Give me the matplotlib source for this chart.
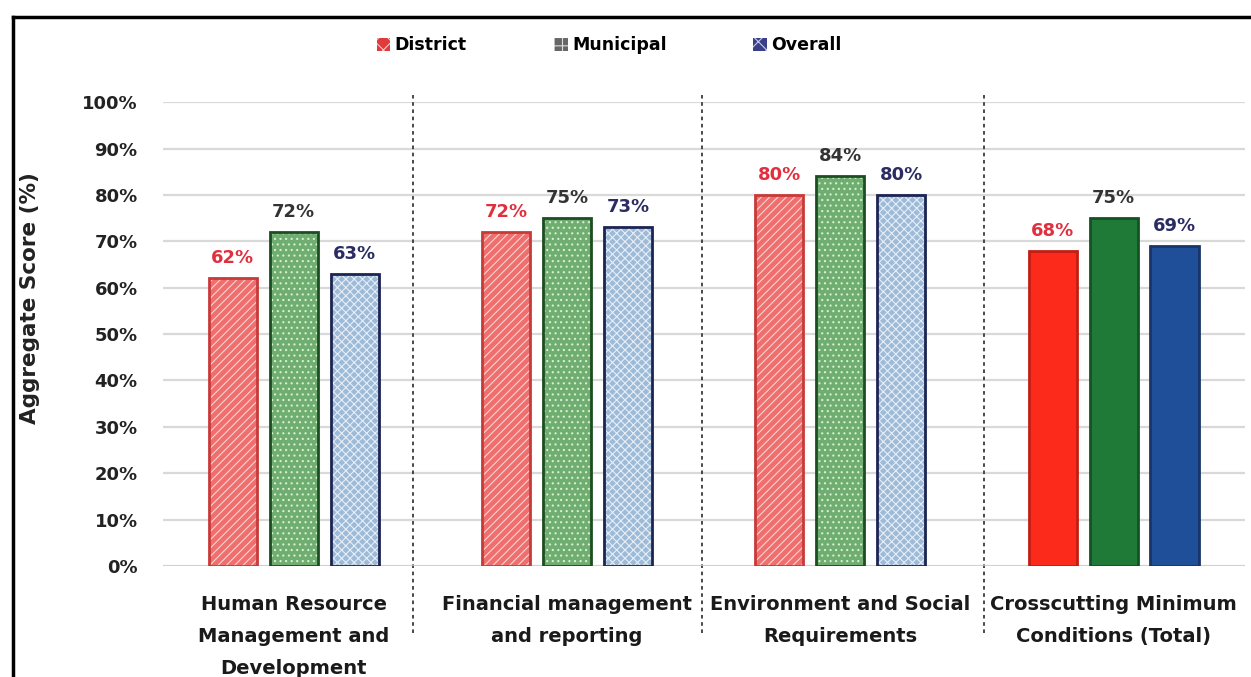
import matplotlib
matplotlib.use("Agg")
import matplotlib.pyplot as plt
import numpy as np
from matplotlib.patches import Patch
from matplotlib.lines import Line2D

# Data
categories = [
    "Human Resource\nManagement and\nDevelopment",
    "Financial management\nand reporting",
    "Environment and Social\nRequirements",
    "Crosscutting Minimum\nConditions (Total)",
]
series_names = ["District", "Municipal", "Overall"]
district = [62, 72, 80, 68]
municipal = [72, 75, 84, 75]
overall = [63, 73, 80, 69]
yticks = [0, 10, 20, 30, 40, 50, 60, 70, 80, 90, 100]

plt.rcParams["font.family"] = ["DejaVu Sans"]
plt.rcParams["font.weight"] = "bold"
plt.rcParams["hatch.linewidth"] = 0.8

fig = plt.figure(figsize=(12.51, 6.77), dpi=100)
ax = fig.add_axes([0.130, 0.164, 0.865, 0.685])

x = np.arange(len(categories))
width = 0.176
step = 0.223

# Patterned fills for the component groups, solid fills for the total group
pattern_face = ["#ef6e6e", "#6fae70", "#9dbad6"]
pattern_hatch = ["////", "...", "xxxx"]
pattern_hatch_col = ["#fbd6d2", "#d8efd6", "#e6eef8"]
pattern_edge = ["#c73a3a", "#1d4d22", "#1b2452"]
solid_face = ["#fb2a1b", "#1f7a38", "#1f4f98"]
solid_edge = ["#c21d14", "#145226", "#1a3468"]
label_col = ["#e0303f", "#333333", "#2a2c62"]

values = [district, municipal, overall]
for s, vals in enumerate(values):
    xs = x + (s - 1) * step
    for i, (xi, v) in enumerate(zip(xs, vals)):
        last = i == len(categories) - 1
        face = solid_face[s] if last else pattern_face[s]
        edge = solid_edge[s] if last else pattern_edge[s]
        ax.bar(xi, v, width, color=face, linewidth=0, zorder=3)
        if not last:
            ax.bar(xi, v, width, facecolor="none", edgecolor=pattern_hatch_col[s],
                   hatch=pattern_hatch[s], linewidth=0, zorder=4)
        ax.bar(xi, v, width, facecolor="none", edgecolor=edge, linewidth=2.0,
               zorder=5)
        ax.annotate(f"{v}%", (xi, v), xytext=(0, 8), textcoords="offset points",
                    ha="center", va="bottom", fontsize=13, fontweight="bold",
                    color=label_col[s], zorder=6)

ax.set_ylim(0, 100)
ax.set_xlim(-0.48, 3.48)
ax.set_yticks(yticks)
ax.set_yticklabels([f"{t}%" for t in yticks], fontsize=13, fontweight="bold",
                   color="#222222")
ax.set_xticks(x)
ax.set_xticklabels(categories, fontsize=14, fontweight="bold", color="#1a1a1a",
                   linespacing=1.85, va="top")
ax.tick_params(axis="y", length=0, pad=18)
ax.tick_params(axis="x", length=0, pad=21)
ax.yaxis.grid(True, color="#d9d9d9", linewidth=1.6, zorder=0)
ax.set_axisbelow(True)
for sp in ax.spines.values():
    sp.set_visible(False)
ax.axhline(0, color="#cfcfcf", linewidth=1.8, zorder=2)

ax.set_ylabel("Aggregate Score (%)", fontsize=15.5, fontweight="bold",
              color="#222222")
ax.yaxis.set_label_coords(-0.113, 0.578)

# Dotted dividers between category groups
for sx in [0.436, 1.495, 2.524]:
    ax.plot([sx, sx], [-14.5, 101.5], color="#3a3a3a", linewidth=1.3,
            linestyle=(0, (2, 2)), clip_on=False, zorder=1)

# Legend
handles = [
    Patch(facecolor="#e23a3a", edgecolor="#f7c8c8", hatch="xx", linewidth=0),
    Patch(facecolor="#666666", edgecolor="#dddddd", hatch="++", linewidth=0),
    Patch(facecolor="#3a3f88", edgecolor="#c8cce8", hatch="xx", linewidth=0),
]
leg = fig.legend(handles, series_names, loc="center", ncol=3,
                 bbox_to_anchor=(0.487, 0.933), frameon=False,
                 prop={"size": 12.5, "weight": "bold"}, handlelength=0.8,
                 handleheight=0.8, handletextpad=0.25, columnspacing=5.0)

# Outer frame
fig.add_artist(Line2D([13 / 1251, 13 / 1251], [1 - 17 / 677, -0.02],
                      transform=fig.transFigure, color="black", linewidth=2.5))
fig.add_artist(Line2D([13 / 1251, 1.02], [1 - 17 / 677, 1 - 17 / 677],
                      transform=fig.transFigure, color="black", linewidth=2.5))

fig.savefig("out.png", dpi=100, facecolor="white")
